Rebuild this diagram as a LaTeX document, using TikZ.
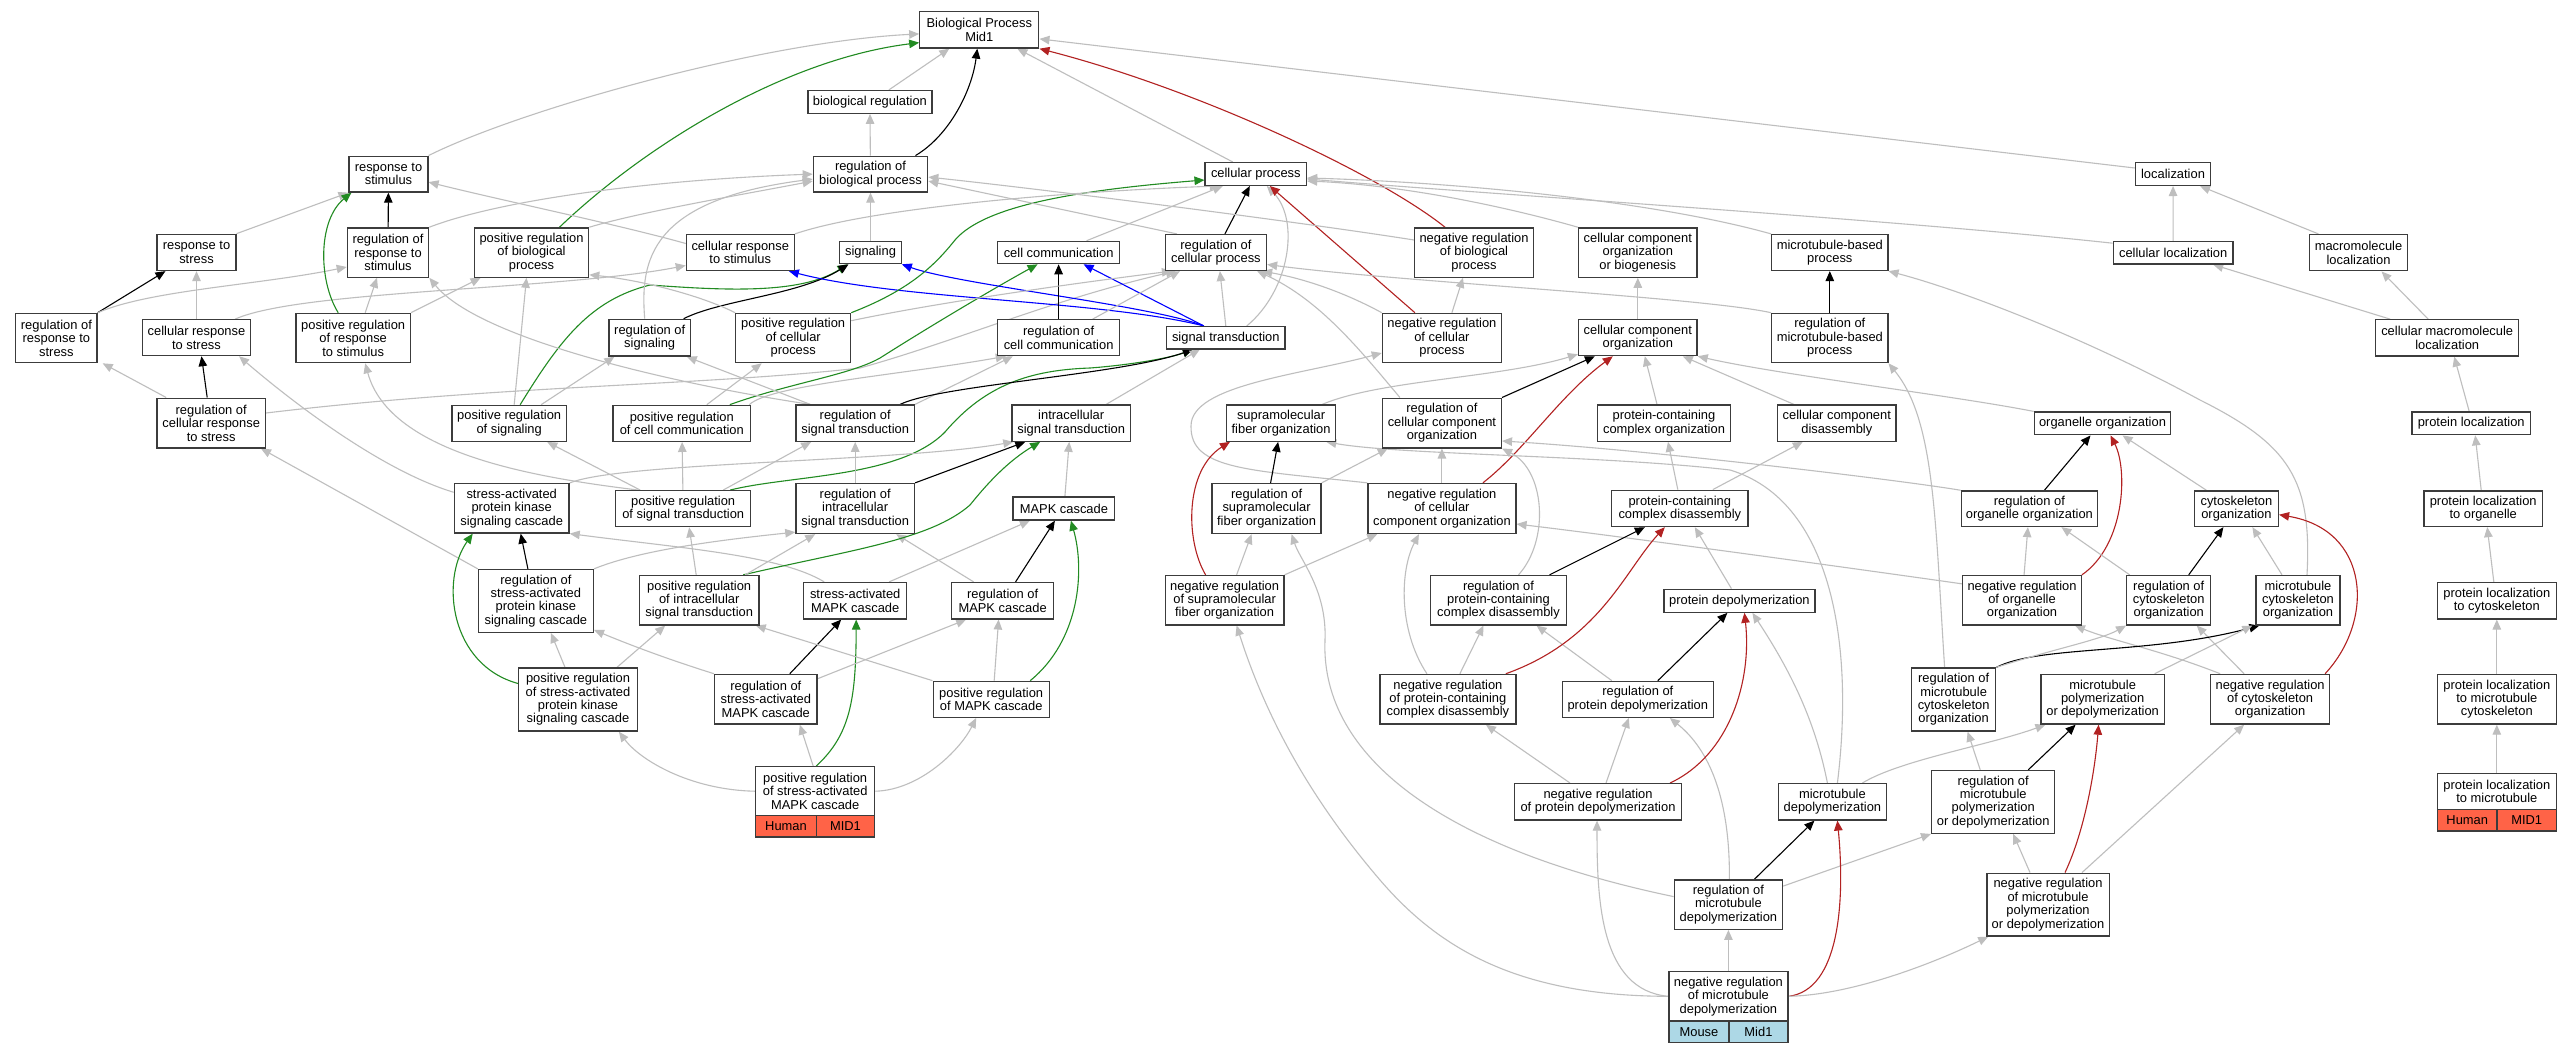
\documentclass[tikz,border=0pt]{standalone}
\usepackage{fontspec}
\setmainfont{Liberation Sans}
\usetikzlibrary{arrows.meta}
\definecolor{gedge}{HTML}{BEBEBE}
\definecolor{gpos}{HTML}{228B22}
\definecolor{gneg}{HTML}{B22222}
\definecolor{gpart}{HTML}{0000FF}
\definecolor{gborder}{HTML}{3C3C3C}
\definecolor{tomatoc}{HTML}{FF6347}
\definecolor{lblue}{HTML}{ADD8E6}
\pgfdeclarelayer{paperlayer}
\pgfdeclarelayer{edgelayer}
\pgfsetlayers{paperlayer,edgelayer,main}
\tikzset{
  gobox/.style={draw=gborder, line width=1.3pt, fill=white, inner sep=0pt, align=center,
    font=\fontsize{12.9pt}{13.4pt}\selectfont},
  spbox/.style={gobox},
  edgebase/.style={line width=1.1pt, -{Triangle[length=10pt,width=8.5pt]}},
  eisa/.style={edgebase, draw=gedge},
  ereg/.style={edgebase, draw=black},
  epos/.style={edgebase, draw=gpos},
  eneg/.style={edgebase, draw=gneg},
  epart/.style={edgebase, draw=gpart},
}
\newcommand{\GOnode}[6]{\node[gobox,minimum width=#4pt,minimum height=#5pt] (#1) at (#2,#3) {#6};}
\begin{document}
\begin{tikzpicture}[x=1pt,y=-1pt]
\begin{pgfonlayer}{paperlayer}
\fill[white] (0,0) rectangle (2572,1053);
\end{pgfonlayer}
\useasboundingbox (0,0) rectangle (2572,1053);
% ---------------- nodes ----------------
\GOnode{bp}{979.3}{29.9}{119}{36.2}{Biological Process\\Mid1}
\GOnode{bioreg}{869.9}{101.9}{124}{22.7}{biological regulation}
\GOnode{respstim}{388.5}{174.1}{78.8}{35.8}{response to\\stimulus}
\GOnode{regbio}{870.5}{174.1}{114.4}{35.8}{regulation of\\biological process}
\GOnode{cellproc}{1255.8}{174}{101.4}{22.7}{cellular process}
\GOnode{loc}{2173}{174}{75.2}{22.7}{localization}
\GOnode{respstress}{196.5}{252.4}{78.8}{36.2}{response to\\stress}
\GOnode{regrespstim}{388}{252.5}{81.3}{49.3}{regulation of\\response to\\stimulus}
\GOnode{posbio}{531.5}{252.5}{114.4}{49.3}{positive regulation\\of biological\\process}
\GOnode{cellrespstim}{740.3}{252.5}{107.8}{35.9}{cellular response\\to stimulus}
\GOnode{signaling}{870.5}{252.5}{61.4}{22.3}{signaling}
\GOnode{cellcomm}{1058.6}{252.5}{122.3}{22.3}{cell communication}
\GOnode{regcellproc}{1215.9}{252.5}{101.2}{35.9}{regulation of\\cellular process}
\GOnode{negbio}{1474}{252.5}{118.6}{49.3}{negative regulation\\of biological\\process}
\GOnode{ccob}{1637.8}{252.5}{118.6}{49.3}{cellular component\\organization\\or biogenesis}
\GOnode{mtproc}{1829.8}{252.5}{116.1}{35.9}{microtubule-based\\process}
\GOnode{cellloc}{2173.2}{252.7}{119.8}{22.6}{cellular localization}
\GOnode{macroloc}{2358.5}{252.7}{98.5}{36.2}{macromolecule\\localization}
\GOnode{regrespstress}{56.4}{338}{81.2}{49.3}{regulation of\\response to\\stress}
\GOnode{cellrespstress}{196.5}{337.7}{107.8}{35.8}{cellular response\\to stress}
\GOnode{posrespstim}{353.2}{338}{114.4}{49.3}{positive regulation\\of response\\to stimulus}
\GOnode{regsignaling}{649.7}{337.7}{81.3}{36.7}{regulation of\\signaling}
\GOnode{poscellproc}{793.2}{338}{114.8}{49.3}{positive regulation\\of cellular\\process}
\GOnode{regcellcomm}{1058.6}{337.7}{122.3}{35.8}{regulation of\\cell communication}
\GOnode{sigtrans}{1225.8}{337.7}{118.6}{22.3}{signal transduction}
\GOnode{negcellproc}{1441.9}{338}{119}{49.3}{negative regulation\\of cellular\\process}
\GOnode{cco}{1637.8}{337.7}{118.6}{35.8}{cellular component\\organization}
\GOnode{regmtproc}{1829.8}{338}{116.1}{49.3}{regulation of\\microtubule-based\\process}
\GOnode{cellmacroloc}{2447.2}{337.9}{143.1}{36.2}{cellular macromolecule\\localization}
\GOnode{regcellrespstress}{211.2}{423}{108.2}{49.7}{regulation of\\cellular response\\to stress}
\GOnode{possignaling}{509.2}{423.3}{114.6}{36}{positive regulation\\of signaling}
\GOnode{poscellcomm}{681.8}{423.3}{137.7}{36}{positive regulation\\of cell communication}
\GOnode{regsigtrans}{855.2}{423.1}{118.6}{36.2}{regulation of\\signal transduction}
\GOnode{intrasig}{1071.2}{423.1}{118.6}{36.2}{intracellular\\signal transduction}
\GOnode{supra}{1281.1}{423.1}{109}{36.2}{supramolecular\\fiber organization}
\GOnode{regcco}{1441.9}{423}{119}{49.7}{regulation of\\cellular component\\organization}
\GOnode{pcco}{1664}{423.1}{133.5}{36.2}{protein-containing\\complex organization}
\GOnode{ccd}{1836.8}{423.1}{118.6}{36.2}{cellular component\\disassembly}
\GOnode{orgorg}{2102.5}{423.4}{136.4}{22.7}{organelle organization}
\GOnode{protloc}{2471.2}{423.4}{118.5}{22.7}{protein localization}
\GOnode{sapk}{511.7}{508.3}{114.7}{49.3}{stress-activated\\protein kinase\\signaling cascade}
\GOnode{possigtrans}{683.2}{508.7}{135}{36}{positive regulation\\of signal transduction}
\GOnode{regintra}{855.2}{508.5}{118.6}{50}{regulation of\\intracellular\\signal transduction}
\GOnode{mapk}{1063.9}{508.5}{101.6}{23}{MAPK cascade}
\GOnode{regsupra}{1266.6}{508.5}{109}{50}{regulation of\\supramolecular\\fiber organization}
\GOnode{negcco}{1441.9}{508.5}{148}{50}{negative regulation\\of cellular\\component organization}
\GOnode{pcd}{1679.8}{508.4}{136.3}{36.3}{protein-containing\\complex disassembly}
\GOnode{regorg}{2029.4}{508.7}{136.3}{35.6}{regulation of\\organelle organization}
\GOnode{cytoorg}{2236.4}{508.7}{84}{35.6}{cytoskeleton\\organization}
\GOnode{protlocorg}{2483.2}{508.7}{118.4}{35.6}{protein localization\\to organelle}
\GOnode{regsapk}{535.9}{600.9}{114.9}{62.8}{regulation of\\stress-activated\\protein kinase\\signaling cascade}
\GOnode{posintra}{699.2}{600.2}{119.7}{49.4}{positive regulation\\of intracellular\\signal transduction}
\GOnode{samapk}{855.2}{600.7}{102.8}{36.4}{stress-activated\\MAPK cascade}
\GOnode{regmapk}{1002.6}{600.7}{101.6}{36.4}{regulation of\\MAPK cascade}
\GOnode{negsupra}{1224.6}{600.2}{118.6}{49.4}{negative regulation\\of supramolecular\\fiber organization}
\GOnode{regpcd}{1498.5}{600.2}{136}{49.4}{regulation of\\protein-containing\\complex disassembly}
\GOnode{protdepol}{1739.4}{600.7}{150.9}{23}{protein depolymerization}
\GOnode{negorg}{2022}{600.2}{118.5}{49.4}{negative regulation\\of organelle\\organization}
\GOnode{regcyto}{2168.7}{600.2}{84}{49.4}{regulation of\\cytoskeleton\\organization}
\GOnode{mtcyto}{2298}{600.2}{84}{49.4}{microtubule\\cytoskeleton\\organization}
\GOnode{protloccyto}{2496.8}{600.7}{118.9}{36.4}{protein localization\\to cytoskeleton}
\GOnode{posregsapk}{578}{699.5}{118.5}{63.1}{positive regulation\\of stress-activated\\protein kinase\\signaling cascade}
\GOnode{regsamapk}{765.8}{699.2}{102.4}{49.7}{regulation of\\stress-activated\\MAPK cascade}
\GOnode{posmapk}{991.2}{699.3}{116.1}{36}{positive regulation\\of MAPK cascade}
\GOnode{negpcd}{1447.9}{699.2}{136}{49.7}{negative regulation\\of protein-containing\\complex disassembly}
\GOnode{regprotdepol}{1637.8}{699.3}{151}{36}{regulation of\\protein depolymerization}
\GOnode{regmtcyto}{1953.6}{699.5}{84.3}{63.1}{regulation of\\microtubule\\cytoskeleton\\organization}
\GOnode{mtpoly}{2102.6}{699.2}{123.1}{49.7}{microtubule\\polymerization\\or depolymerization}
\GOnode{negcyto}{2270.1}{699.2}{119}{49.7}{negative regulation\\of cytoskeleton\\organization}
\GOnode{protlocmtcyto}{2496.8}{699.2}{118.9}{49.7}{protein localization\\to microtubule\\cytoskeleton}
\GOnode{possamapk}{815.2}{791.2}{119}{49}{positive regulation\\of stress-activated\\MAPK cascade}
\node[spbox,fill=tomatoc,minimum width=60.5pt,minimum height=21.2pt] (possamapkA) at (786,826.3) {Human};
\node[spbox,fill=tomatoc,minimum width=58.5pt,minimum height=21.2pt] (possamapkB) at (845.45,826.3) {MID1};
\GOnode{negprotdepol}{1598}{801.8}{166.6}{36.3}{negative regulation\\of protein depolymerization}
\GOnode{mtdepol}{1832.4}{801.8}{108.2}{36.3}{microtubule\\depolymerization}
\GOnode{regmtpoly}{1993.2}{801.9}{123.1}{62.8}{regulation of\\microtubule\\polymerization\\or depolymerization}
\GOnode{protlocmt}{2496.8}{791.4}{118.9}{35.9}{protein localization\\to microtubule}
\node[spbox,fill=tomatoc,minimum width=59.8pt,minimum height=21.6pt] (protlocmtA) at (2467.2,820.1) {Human};
\node[spbox,fill=tomatoc,minimum width=59.1pt,minimum height=21.6pt] (protlocmtB) at (2526.65,820.1) {MID1};
\GOnode{regmtdepol}{1728.4}{904.6}{108.2}{49.4}{regulation of\\microtubule\\depolymerization}
\GOnode{negmtpoly}{2048}{904.6}{122.3}{62.8}{negative regulation\\of microtubule\\polymerization\\or depolymerization}
\GOnode{negmtdepol}{1728.4}{996.3}{119}{49.4}{negative regulation\\of microtubule\\depolymerization}
\node[spbox,fill=lblue,minimum width=60.1pt,minimum height=21.5pt] (negmtdepolA) at (1698.95,1031.75) {Mouse};
\node[spbox,fill=lblue,minimum width=58.9pt,minimum height=21.5pt] (negmtdepolB) at (1758.45,1031.75) {Mid1};
% ---------------- edges ----------------
\begin{pgfonlayer}{edgelayer}
% root
\draw[eisa] (respstim.north east) .. controls (520,110) and (760,42) .. ([yshift=-4pt]bp.west);
\draw[epos] ([xshift=28pt]posbio.north) .. controls (640,150) and (780,60) .. ([yshift=6pt]bp.south west);
\draw[eisa] ([xshift=19pt]bioreg.north) -- ([xshift=-30pt]bp.south);
\draw[ereg] ([xshift=45pt]regbio.north) .. controls (950,135) and (972,90) .. ([xshift=-2pt]bp.south);
\draw[eisa] ([xshift=-23pt]cellproc.north) -- ([xshift=38pt]bp.south);
\draw[eneg] ([xshift=-29pt]negbio.north) .. controls (1380,175) and (1200,90) .. (bp.south east);
\draw[eisa] ([yshift=6pt]loc.west) -- ([yshift=-9pt]bp.east);
\draw[eisa] (regbio) -- (bioreg);
% upper left
\draw[eisa] (respstress.north east) -- (respstim.south west);
\draw[ereg] (regrespstim) -- (respstim);
\draw[eisa] (regrespstim.north east) .. controls (500,200) and (650,180) .. (regbio.west);
\draw[eisa] (posbio.north east) .. controls (640,212) and (740,195) .. ([yshift=-7pt]regbio.west);
\draw[ereg] (regrespstress.north east) -- ([xshift=9pt]respstress.south west);
\draw[eisa] (regrespstress.north east) .. controls (150,290) and (260,285) .. ([yshift=-14.5pt]regrespstim.west);
\draw[eisa] (cellrespstress) -- (respstress);
\draw[eisa] ([xshift=-16pt]cellrespstress.north east) .. controls (300,290) and (560,290) .. ([yshift=-13pt]cellrespstim.west);
\draw[epos] ([xshift=-15pt]posrespstim.north) .. controls (318,280) and (318,220) .. ([xshift=3pt]respstim.south west);
\draw[eisa] ([xshift=12pt]posrespstim.north) -- ([xshift=-11pt]regrespstim.south);
\draw[eisa] (posrespstim.north east) -- ([xshift=7pt]posbio.south west);
\draw[eisa] ([xshift=-45pt]regcellrespstress.north) -- ([xshift=5pt]regrespstress.south east);
\draw[ereg] ([xshift=-4pt]regcellrespstress.north) -- ([xshift=5pt]cellrespstress.south);
\draw[eisa] ([yshift=10pt]regcellrespstress.east) .. controls (500,385) and (700,386) .. (860,368) .. controls (960,340) and (1050,300) .. ([xshift=-40pt]regcellproc.south);
\draw[eisa] ([xshift=-2pt]poscellcomm.north east) .. controls (770,385) and (900,375) .. ([xshift=9pt]regcellcomm.south west);
\draw[eisa] ([xshift=5pt]possignaling.north) -- ([xshift=-5pt]posbio.south);
\draw[eisa] ([xshift=32pt]possignaling.north) -- ([xshift=6pt]regsignaling.south west);
\draw[epos] ([xshift=11pt]possignaling.north) .. controls (560,340) and (590,300) .. (650,285) .. controls (720,290) and (800,295) .. ([xshift=-23pt]signaling.south);
\draw[ereg] ([xshift=34pt]regsignaling.north) .. controls (720,300) and (800,295) .. ([xshift=-22pt]signaling.south);
\draw[eisa] ([xshift=-5pt]regsignaling.north) .. controls (640,260) and (650,200) .. ([yshift=-5pt]regbio.west);
\draw[epos] ([xshift=48pt]poscellcomm.north) .. controls (790,383) and (850,375) .. (880,358) .. controls (940,320) and (1000,285) .. ([xshift=-21pt]cellcomm.south);
\draw[eisa] ([xshift=25pt]poscellcomm.north) -- ([xshift=-31.5pt]poscellproc.south);
\draw[eisa] (possigtrans) -- (poscellcomm);
\draw[eisa] ([xshift=-43pt]possigtrans.north) -- ([xshift=38pt]possignaling.south);
\draw[eisa] ([xshift=40pt]possigtrans.north) -- ([xshift=-44pt]regsigtrans.south);
\draw[epos] ([xshift=47pt]possigtrans.north) .. controls (790,475) and (900,478) .. (945,432) .. controls (985,385) and (1030,370) .. (1090,368) .. controls (1130,365) and (1170,358) .. ([xshift=-33pt]sigtrans.south);
\draw[eisa] ([xshift=-45pt]possigtrans.north) .. controls (540,478) and (390,455) .. ([xshift=12pt]posrespstim.south);
\draw[eisa] ([xshift=-45pt]regsigtrans.north) -- ([xshift=37pt]regsignaling.south);
\draw[eisa] ([xshift=-45pt]regsigtrans.north) .. controls (680,385) and (480,340) .. (regrespstim.south east);
\draw[eisa] (regsigtrans.north east) -- ([xshift=16pt]regcellcomm.south west);
\draw[ereg] ([xshift=45pt]regsigtrans.north) .. controls (940,385) and (1120,375) .. ([xshift=-33pt]sigtrans.south);
\draw[eisa] ([xshift=35pt]intrasig.north) -- ([xshift=-26pt]sigtrans.south);
\draw[epart] ([xshift=-22pt]sigtrans.north) .. controls (1150,305) and (960,285) .. (signaling.south east);
\draw[epart] ([xshift=-22pt]sigtrans.north) -- ([xshift=25pt]cellcomm.south);
\draw[epart] ([xshift=-22pt]sigtrans.north) .. controls (1100,300) and (900,300) .. ([xshift=-6pt]cellrespstim.south east);
\draw[eisa] (sigtrans.north) -- ([xshift=4pt]regcellproc.south);
\draw[eisa] ([xshift=21pt]sigtrans.north) .. controls (1290,290) and (1300,220) .. ([xshift=11pt]cellproc.south);
\draw[ereg] (regcellcomm) -- (cellcomm);
\draw[eisa] ([xshift=34pt]regcellcomm.north) -- ([xshift=-36pt]regcellproc.south);
\draw[eisa] ([yshift=-8pt]poscellproc.north east) .. controls (950,300) and (1100,280) .. ([xshift=-44pt]regcellproc.south);
\draw[epos] (poscellproc.north east) .. controls (910,290) and (935,265) .. (955,240) .. controls (985,205) and (1080,190) .. ([yshift=-6pt]cellproc.west);
\draw[eisa] (poscellproc.north west) .. controls (700,295) and (640,280) .. ([yshift=3pt]posbio.south east);
\draw[eisa] ([xshift=28pt]cellcomm.north) -- ([xshift=-33pt]cellproc.south);
\draw[ereg] ([xshift=9pt]regcellproc.north) -- ([xshift=-6pt]cellproc.south);
\draw[eisa] ([xshift=-39pt]regcellproc.north) -- ([yshift=-7pt]regbio.east);
\draw[eneg] ([xshift=-27pt]negcellproc.north) -- ([xshift=14pt]cellproc.south);
\draw[eisa] ([xshift=10pt]negcellproc.north) -- ([xshift=-11pt]negbio.south);
\draw[eisa] (negcellproc.north west) .. controls (1340,290) and (1300,278) .. ([xshift=-5pt]regcellproc.south east);
\draw[eisa] (regmtproc.north west) .. controls (1700,297) and (1400,282) .. ([yshift=-12pt]regcellproc.east);
\draw[eisa] ([xshift=-42pt]regcco.north) .. controls (1360,350) and (1320,300) .. ([xshift=-10pt]regcellproc.south east);
\draw[eisa] (ccob.north west) .. controls (1500,205) and (1400,185) .. ([yshift=-7pt]cellproc.east);
\draw[eisa] (mtproc.north west) .. controls (1650,200) and (1450,182) .. ([yshift=-4pt]cellproc.east);
\draw[eisa] ([yshift=9.5pt]cellloc.west) .. controls (1900,220) and (1500,195) .. ([yshift=-5pt]cellproc.east);
\draw[eisa] ([yshift=12.5pt]negbio.west) .. controls (1300,222) and (1050,190) .. ([yshift=-3pt]regbio.east);
\draw[eisa] (cellrespstim.north east) .. controls (880,205) and (1100,190) .. ([xshift=-36pt]cellproc.south);
\draw[eisa] ([yshift=9pt]cellrespstim.west) .. controls (620,225) and (500,200) .. ([yshift=-8pt]respstim.east);
\draw[eisa] (signaling) -- (regbio);
% right part
\draw[eisa] (cco) -- (ccob);
\draw[ereg] (regmtproc) -- (mtproc);
\draw[ereg] (regcco.north east) -- ([xshift=17pt]cco.south west);
\draw[eneg] ([xshift=41pt]negcco.north) .. controls (1525,450) and (1560,395) .. ([xshift=-25pt]cco.south);
\draw[eisa] (negcco) -- (regcco);
\draw[eisa] (negcco.north west) .. controls (1250,470) and (1190,470) .. (1191,426) .. controls (1191,385) and (1300,375) .. ([yshift=-15pt]negcellproc.west);
\draw[eisa] ([xshift=-14pt]supra.north east) .. controls (1380,380) and (1500,378) .. ([yshift=2pt]cco.south west);
\draw[ereg] ([xshift=4pt]regsupra.north) -- ([xshift=-3pt]supra.south);
\draw[eisa] (regsupra.north east) -- ([xshift=6pt]regcco.south west);
\draw[eneg] ([xshift=-19pt]negsupra.north) .. controls (1185,540) and (1185,470) .. ([xshift=4pt]supra.south west);
\draw[eisa] ([xshift=12pt]negsupra.north) -- ([xshift=-15pt]regsupra.south);
\draw[eisa] (negsupra.north east) -- ([xshift=10pt]negcco.south west);
\draw[eisa] ([xshift=-7pt]pcco.north) -- ([xshift=7pt]cco.south);
\draw[eisa] ([xshift=-43pt]ccd.north) -- ([xshift=-15pt]cco.south east);
\draw[eisa] (orgorg.north west) .. controls (1950,395) and (1780,375) .. (cco.south east);
\draw[eisa] ([xshift=-2pt]pcd.north) -- ([xshift=4pt]pcco.south);
\draw[eisa] ([xshift=33pt]pcd.north) -- ([xshift=-34pt]ccd.south);
\draw[eisa] (regorg.north west) .. controls (1900,480) and (1650,450) .. ([yshift=-18pt]regcco.east);
\draw[eisa] ([xshift=20pt]regpcd.north) .. controls (1550,540) and (1545,470) .. (regcco.south east);
\draw[eisa] ([yshift=-9pt]negorg.north west) .. controls (1900,575) and (1650,540) .. ([yshift=-15.5pt]negcco.east);
\draw[eisa] ([xshift=5pt]mtdepol.north) .. controls (1855,640) and (1830,500) .. (1730,470) .. controls (1600,455) and (1400,455) .. ([xshift=-10pt]supra.south east);
\draw[ereg] ([xshift=15pt]regorg.north) -- ([xshift=-12pt]orgorg.south);
\draw[eneg] (negorg.north east) .. controls (2125,545) and (2128,470) .. ([xshift=8pt]orgorg.south);
\draw[eisa] ([xshift=-30pt]cytoorg.north) -- ([xshift=20pt]orgorg.south);
\draw[eisa] (negorg) -- (regorg);
\draw[eisa] ([xshift=-39pt]regcyto.north) -- ([xshift=32pt]regorg.south);
\draw[ereg] ([xshift=20pt]regcyto.north) -- ([xshift=-13pt]cytoorg.south);
\draw[eisa] ([xshift=-16pt]mtcyto.north) -- ([xshift=16pt]cytoorg.south);
\draw[eisa] ([xshift=9pt]mtcyto.north) .. controls (2312,480) and (2290,445) .. (2200,400) .. controls (2080,335) and (1960,290) .. (mtproc.south east);
\draw[eneg] ([xshift=55pt]negcyto.north) .. controls (2375,620) and (2370,530) .. ([yshift=-6pt]cytoorg.east);
\draw[eisa] ([xshift=-26pt]negcyto.north) -- ([xshift=28pt]regcyto.south);
\draw[eisa] ([xshift=-50pt]negcyto.north) .. controls (2160,650) and (2110,640) .. ([xshift=-7pt]negorg.south east);
\draw[ereg] (regmtcyto.north east) .. controls (2040,645) and (2150,655) .. ([xshift=4pt]mtcyto.south west);
\draw[eisa] (regmtcyto.north east) .. controls (2050,650) and (2100,640) .. (regcyto.south west);
\draw[eisa] ([xshift=-9pt]regmtcyto.north) .. controls (1935,520) and (1935,420) .. (regmtproc.south east);
\draw[eisa] ([xshift=52pt]mtpoly.north) -- ([xshift=-3pt]mtcyto.south west);
\draw[eisa] ([xshift=30pt]mtdepol.north) .. controls (1900,760) and (1990,745) .. ([xshift=5pt]mtpoly.south west);
\draw[ereg] ([xshift=35pt]regmtpoly.north) -- ([xshift=-27pt]mtpoly.south);
\draw[eisa] ([xshift=-13pt]regmtpoly.north) -- ([xshift=14pt]regmtcyto.south);
\draw[eneg] ([xshift=17pt]negmtpoly.north) .. controls (2085,830) and (2095,770) .. ([xshift=-4pt]mtpoly.south);
\draw[eisa] ([xshift=-18pt]negmtpoly.north) -- ([xshift=20pt]regmtpoly.south);
\draw[eisa] ([xshift=34pt]negmtpoly.north) -- ([xshift=-26pt]negcyto.south);
\draw[ereg] ([xshift=26pt]regmtdepol.north) -- ([xshift=-18pt]mtdepol.south);
\draw[eisa] ([xshift=1pt]regmtdepol.north) .. controls (1730,800) and (1710,750) .. ([xshift=32pt]regprotdepol.south);
\draw[eisa] ([yshift=8pt]regmtdepol.west) .. controls (1450,850) and (1320,760) .. (1325,640) .. controls (1327,590) and (1300,560) .. ([xshift=25pt]regsupra.south);
\draw[eisa] ([yshift=18.5pt]regmtdepol.east) -- (regmtpoly.south west);
\draw[eneg] (negmtdepol.east) .. controls (1840,990) and (1845,900) .. ([xshift=5pt]mtdepol.south);
\draw[eisa] (negmtdepol) -- (regmtdepol);
\draw[eisa] (negmtdepol.west) .. controls (1600,990) and (1597,900) .. ([xshift=-1pt]negprotdepol.south);
\draw[eisa] (negmtdepol.west) .. controls (1520,996) and (1440,950) .. (1380,880) .. controls (1320,810) and (1270,730) .. ([xshift=12pt]negsupra.south);
\draw[eisa] (negmtdepol.east) .. controls (1850,995) and (1930,965) .. ([xshift=2pt]negmtpoly.south west);
\draw[eisa] ([xshift=8pt]negprotdepol.north) -- ([xshift=-9pt]regprotdepol.south);
\draw[eneg] ([xshift=72pt]negprotdepol.north) .. controls (1730,755) and (1752,680) .. ([xshift=5pt]protdepol.south);
\draw[eisa] ([xshift=-28pt]negprotdepol.north) -- ([xshift=38pt]negpcd.south);
\draw[ereg] ([xshift=20pt]regprotdepol.north) -- ([xshift=-12pt]protdepol.south);
\draw[eisa] ([xshift=-26pt]regprotdepol.north) -- ([xshift=38pt]regpcd.south);
\draw[eisa] ([xshift=-5pt]mtdepol.north) .. controls (1815,720) and (1790,670) .. ([xshift=13pt]protdepol.south);
\draw[eisa] ([xshift=-8pt]protdepol.north) -- ([xshift=15pt]pcd.south);
\draw[ereg] ([xshift=51pt]regpcd.north) -- ([xshift=-35pt]pcd.south);
\draw[eneg] ([xshift=58pt]negpcd.north) .. controls (1600,640) and (1625,570) .. ([xshift=-15pt]pcd.south);
\draw[eisa] ([xshift=12pt]negpcd.north) -- ([xshift=-15pt]regpcd.south);
\draw[eisa] ([xshift=-21pt]negpcd.north) .. controls (1398,630) and (1400,570) .. ([xshift=-23pt]negcco.south);
% left middle
\draw[eisa] ([yshift=16pt]sapk.west) .. controls (380,470) and (290,400) .. ([xshift=-12pt]cellrespstress.south east);
\draw[eisa] (sapk.north east) .. controls (620,462) and (900,462) .. ([xshift=2pt]intrasig.south west);
\draw[ereg] ([xshift=-8pt]regsapk.north) -- ([xshift=9pt]sapk.south);
\draw[eisa] (regsapk.north west) -- ([xshift=-5pt]regcellrespstress.south east);
\draw[eisa] (regsapk.north east) .. controls (640,550) and (720,540) .. ([yshift=2pt]regintra.south west);
\draw[epos] ([xshift=1pt]possamapk.north) .. controls (850,735) and (856,700) .. ([xshift=1pt]samapk.south);
\draw[eisa] ([xshift=-2pt]possamapk.north) -- ([xshift=34pt]regsamapk.south);
\draw[eisa] (possamapk.east) .. controls (920,790) and (960,750) .. ([xshift=-15pt]posmapk.south);
\draw[eisa] (possamapk.west) .. controls (690,790) and (640,760) .. ([xshift=-19pt]posregsapk.south east);
\draw[epos] ([yshift=16pt]posregsapk.west) .. controls (450,665) and (440,580) .. ([xshift=-39pt]sapk.south);
\draw[eisa] ([xshift=-13pt]posregsapk.north) -- ([xshift=15pt]regsapk.south);
\draw[eisa] ([xshift=39pt]posregsapk.north) -- ([xshift=-34pt]posintra.south);
\draw[ereg] ([xshift=24pt]regsamapk.north) -- ([xshift=-14pt]samapk.south);
\draw[eisa] ([yshift=-5pt]regsamapk.north east) -- ([xshift=15pt]regmapk.south west);
\draw[eisa] (regsamapk.north west) .. controls (670,660) and (630,645) .. ([yshift=3pt]regsapk.south east);
\draw[eisa] ([xshift=34pt]samapk.north) -- ([xshift=-34pt]mapk.south);
\draw[eisa] ([xshift=-31pt]samapk.north) .. controls (780,555) and (680,548) .. (sapk.south east);
\draw[ereg] ([xshift=13pt]regmapk.north) -- ([xshift=-9pt]mapk.south);
\draw[eisa] ([xshift=-29pt]regmapk.north) -- ([xshift=41pt]regintra.south);
\draw[epos] ([xshift=39pt]posmapk.north) .. controls (1080,640) and (1085,570) .. ([xshift=7pt]mapk.south);
\draw[eisa] ([xshift=3pt]posmapk.north) -- ([xshift=-4pt]regmapk.south);
\draw[eisa] (posmapk.north west) -- ([xshift=-4pt]posintra.south east);
\draw[epos] ([xshift=44pt]posintra.north) .. controls (850,550) and (930,540) .. (970,505) .. controls (990,480) and (1010,460) .. ([xshift=-31pt]intrasig.south);
\draw[eisa] ([xshift=46pt]posintra.north) -- ([xshift=-40pt]regintra.south);
\draw[eisa] ([xshift=-3pt]posintra.north) -- ([xshift=6pt]possigtrans.south);
\draw[ereg] (regintra.north east) -- ([xshift=14pt]intrasig.south west);
\draw[eisa] (regintra) -- (regsigtrans);
\draw[eisa] ([xshift=1pt]mapk.north) -- ([xshift=-2pt]intrasig.south);
% localization column
\draw[eisa] (cellloc) -- (loc);
\draw[eisa] ([xshift=-40pt]macroloc.north) -- ([xshift=27pt]loc.south);
\draw[eisa] ([xshift=-57pt]cellmacroloc.north) -- ([xshift=40pt]cellloc.south);
\draw[eisa] ([xshift=-19pt]cellmacroloc.north) -- ([xshift=23pt]macroloc.south);
\draw[eisa] ([xshift=-2pt]protloc.north) -- ([xshift=7pt]cellmacroloc.south);
\draw[eisa] ([xshift=-2pt]protlocorg.north) -- ([xshift=4pt]protloc.south);
\draw[eisa] ([xshift=-3pt]protloccyto.north) -- ([xshift=4pt]protlocorg.south);
\draw[eisa] (protlocmtcyto) -- (protloccyto);
\draw[eisa] (protlocmt) -- (protlocmtcyto);
\end{pgfonlayer}
\end{tikzpicture}
\end{document}
